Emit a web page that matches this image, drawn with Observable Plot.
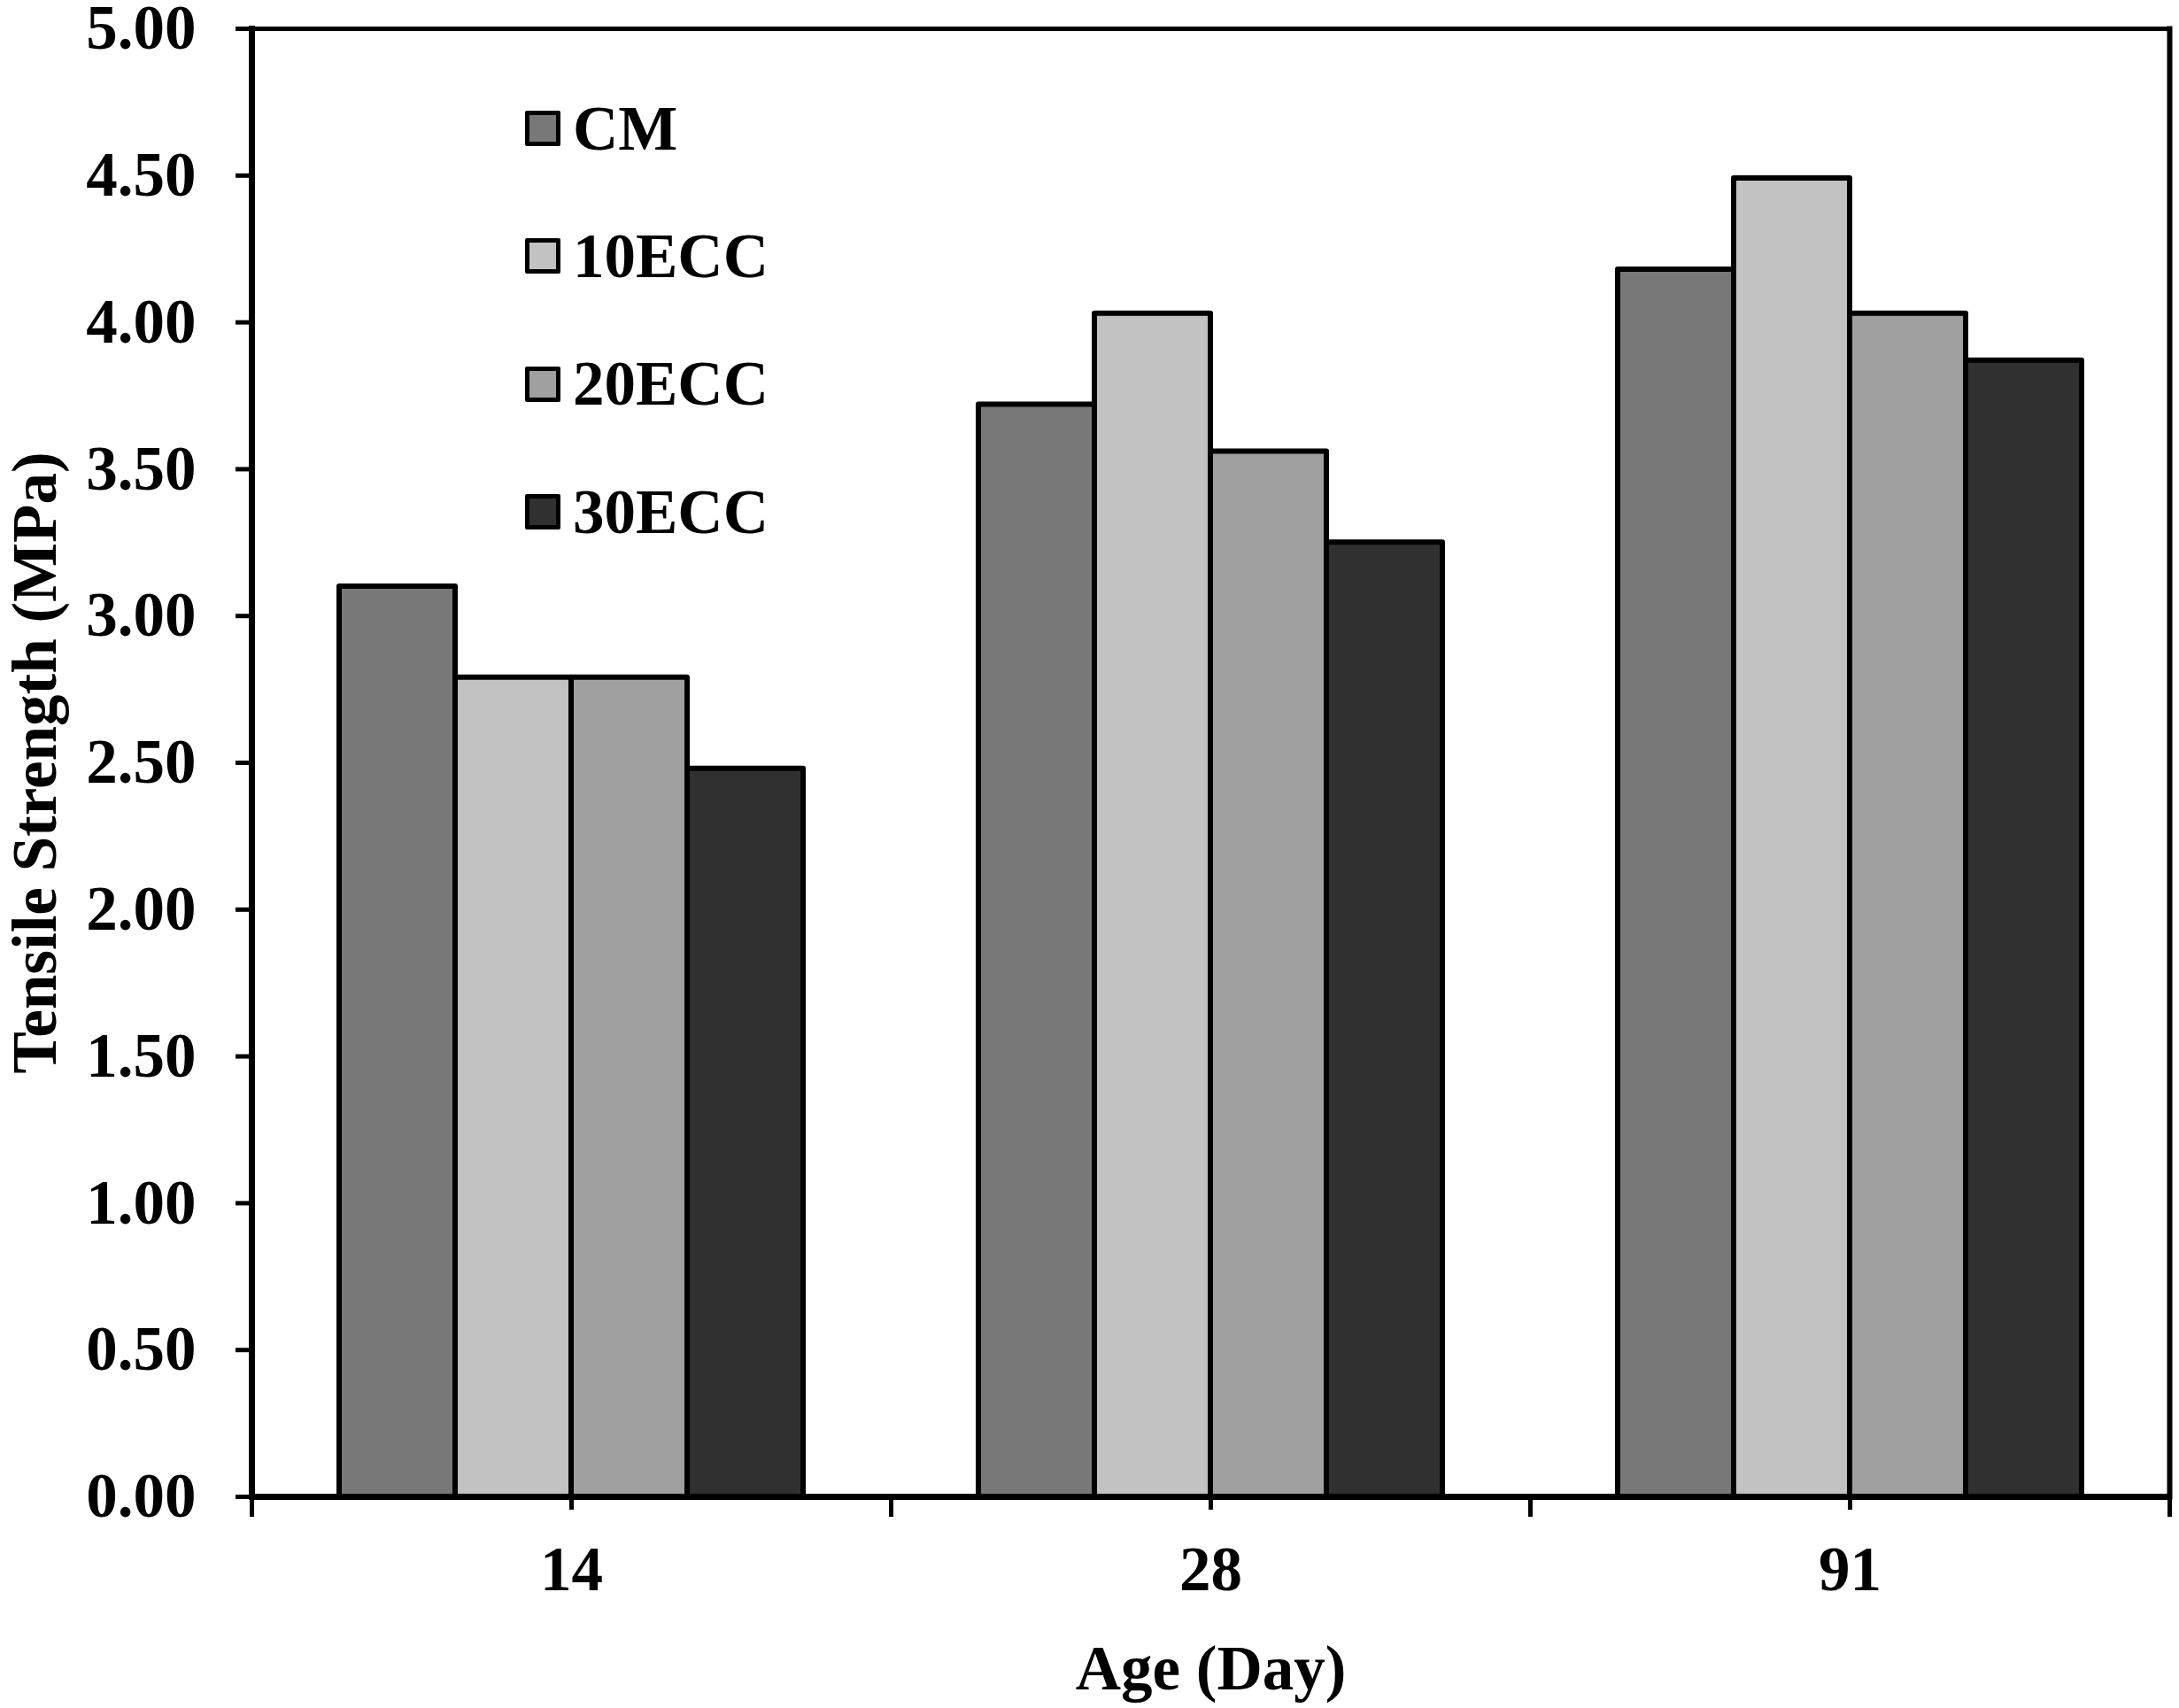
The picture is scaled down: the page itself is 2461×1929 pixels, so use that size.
<!DOCTYPE html>
<html>
<head>
<meta charset="utf-8">
<script src="https://cdn.jsdelivr.net/npm/d3@7"></script>
<script src="https://cdn.jsdelivr.net/npm/@observablehq/plot@0.6"></script>
<style>
  html, body { margin: 0; padding: 0; background: #fff; }
  #wrap { position: relative; width: 2461px; height: 1929px; }
  #wrap svg { overflow: visible; }
  #legend { position: absolute; left: 593px; top: 73px; font-family: "Liberation Serif", "Times New Roman", serif; font-weight: bold; font-size: 71px; color: #000; }
  #legend .row { display: flex; align-items: center; height: 144.3px; }
  #legend .sw { width: 40px; height: 40px; box-sizing: border-box; border: 5px solid #000; border-radius: 2px; }
  #legend .lb { margin-left: 14px; line-height: 1; }
</style>
</head>
<body>
<div id="wrap"></div>
<script>
// ---- data ----
const ages = ["14", "28", "91"];
const series = ["CM", "10ECC", "20ECC", "30ECC"];
const CM    = [3.10, 3.72, 4.18];
const ECC10 = [2.79, 4.03, 4.49];
const ECC20 = [2.79, 3.56, 4.03];
const ECC30 = [2.48, 3.25, 3.87];
const yTicks = [0, 0.5, 1, 1.5, 2, 2.5, 3, 3.5, 4, 4.5, 5];
const colors = ["#787878", "#c2c2c2", "#a0a0a0", "#303030"];

const valuesBySeries = [CM, ECC10, ECC20, ECC30];
const data = [];
ages.forEach((a, i) => series.forEach((s, j) => data.push({age: a, series: s, value: valuesBySeries[j][i]})));

// ---- layout ----
const W = 2461, H = 1929;
const mT = 32, mB = 239, mL = 284, mR = 11;
const facetH = H - mT - mB;

const chart = Plot.plot({
  width: W,
  height: H,
  marginTop: mT,
  marginBottom: mB,
  marginLeft: mL,
  marginRight: mR,
  style: {fontFamily: "'Liberation Serif', 'Times New Roman', serif", fontWeight: "bold", fontSize: "71px", color: "#000", background: "#fff", overflow: "visible"},
  fx: {domain: ages, padding: 0, label: "Age (Day)"},
  x: {domain: series, paddingInner: 0, paddingOuter: 0.75, axis: null},
  y: {domain: [0, 5], label: "Tensile Strength (MPa)"},
  color: {domain: series, range: colors},
  marks: [
    Plot.barY(data, {fx: "age", x: "series", y: "value", fill: "series", stroke: "#000", strokeWidth: 6, strokeLinejoin: "round", inset: 0}),
    Plot.ruleY([5], {stroke: "#000", strokeWidth: 5}),
    Plot.ruleY([0], {stroke: "#000", strokeWidth: 7}),
    Plot.frame({anchor: "left", facetAnchor: "left", stroke: "#000", strokeWidth: 7}),
    Plot.frame({anchor: "right", facetAnchor: "right", stroke: "#000", strokeWidth: 6}),
    // boundary ticks below the x axis
    Plot.frame({anchor: "left", insetTop: facetH, insetBottom: -20, stroke: "#000", strokeWidth: 5}),
    Plot.frame({anchor: "right", facetAnchor: "right", insetTop: facetH, insetBottom: -20, stroke: "#000", strokeWidth: 5}),
    Plot.axisY({ticks: yTicks, tickFormat: d => d.toFixed(2), tickSize: 18, tickPadding: 45, strokeWidth: 5,
      label: "Tensile Strength (MPa)", labelAnchor: "center", labelArrow: "none", labelOffset: 272}),
    Plot.axisFx({anchor: "bottom", tickSize: 15, tickPadding: 40, strokeWidth: 5,
      label: "Age (Day)", labelAnchor: "center", labelArrow: "none", labelOffset: 217})
  ]
});

const wrap = document.getElementById("wrap");
wrap.appendChild(chart);

// legend
const legend = document.createElement("div");
legend.id = "legend";
series.forEach((s, i) => {
  const row = document.createElement("div");
  row.className = "row";
  const sw = document.createElement("div");
  sw.className = "sw";
  sw.style.background = colors[i];
  const lb = document.createElement("span");
  lb.className = "lb";
  lb.textContent = s;
  row.appendChild(sw);
  row.appendChild(lb);
  legend.appendChild(row);
});
wrap.appendChild(legend);
</script>
</body>
</html>
